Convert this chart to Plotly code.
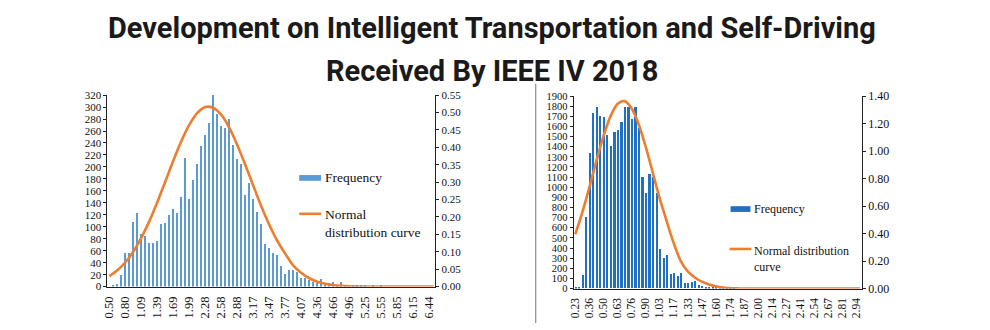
import plotly.graph_objects as go

# ---------------- data ----------------
# Left chart: 82 histogram bins, labelled every 4th bin
left_tick_labels = ["0.50", "0.80", "1.09", "1.39", "1.69", "1.99", "2.28", "2.58", "2.88", "3.17",
                    "3.47", "3.77", "4.07", "4.36", "4.66", "4.96", "5.25", "5.55", "5.85", "6.15", "6.44"]
left_freq = [0, 2, 5, 19, 56, 56, 107, 123, 88, 85,
             72, 72, 76, 104, 106, 119, 130, 123, 149, 215,
             146, 178, 204, 235, 254, 274, 320, 289, 268, 265,
             280, 237, 213, 204, 153, 173, 147, 124, 105, 71,
             64, 56, 52, 35, 21, 28, 28, 24, 15, 14,
             11, 8, 6, 12, 6, 6, 7, 3, 7, 3,
             2, 2, 1, 3, 1, 0, 1, 0, 2, 0,
             0, 0, 0, 0, 0, 0, 0, 0, 0, 0,
             0, 0]
# normal distribution curve read at every 2nd bin (plus last bin)
left_curve = [0.030, 0.047, 0.070, 0.101, 0.141, 0.188, 0.243, 0.302, 0.362, 0.418,
              0.465, 0.499, 0.516, 0.513, 0.493, 0.456, 0.406, 0.349, 0.289, 0.230,
              0.177, 0.131, 0.094, 0.060, 0.039, 0.024, 0.014, 0.008, 0.004, 0.002,
              0.001, 0.0005, 0.0, 0.0, 0.0, 0.0, 0.0, 0.0, 0.0, 0.0,
              0.0, 0.0]

# Right chart
right_tick_labels = ["0.23", "0.36", "0.50", "0.63", "0.76", "0.90", "1.03", "1.17", "1.33", "1.47",
                     "1.60", "1.74", "1.87", "2.00", "2.14", "2.27", "2.41", "2.54", "2.67", "2.81", "2.94"]
right_freq = [8, 8, 135, 703, 1333, 1733, 1796, 1705, 1689, 1516,
              1405, 1544, 1560, 1642, 1796, 1796, 1670, 1796, 1585, 1103,
              939, 1128, 1103, 939, 388, 298, 328, 145, 148, 122,
              153, 58, 58, 60, 75, 33, 25, 16, 12, 8,
              6, 4, 3, 2, 1, 1, 0, 0, 0, 0,
              0, 0, 0, 0, 0, 0, 0, 0, 0, 0,
              0, 0, 0, 0, 0, 0, 0, 0, 0, 0,
              0, 0, 0, 0, 0, 0, 0, 0, 0, 0,
              0, 0]
right_curve = [0.395, 0.554, 0.736, 0.928, 1.107, 1.252, 1.342, 1.363, 1.312, 1.197,
               1.034, 0.847, 0.657, 0.490, 0.330, 0.200, 0.125, 0.080, 0.050, 0.030,
               0.017, 0.008, 0.003, 0.001, 0.0, 0.0, 0.0, 0.0, 0.0, 0.0,
               0.0, 0.0, 0.0, 0.0, 0.0, 0.0, 0.0, 0.0, 0.0, 0.0,
               0.0, 0.0]

title_line1 = "Development on Intelligent Transportation and Self-Driving"
title_line2 = "Received By IEEE IV 2018"

# ---------------- figure ----------------
W, H = 990, 330
n_bins = len(left_freq)
bin_idx = list(range(n_bins))
curve_idx = list(range(0, n_bins - 1, 2)) + [n_bins - 1]
tick_idx = list(range(0, n_bins - 1, 4))

BLUE_L = "#5B9BD5"
BLUE_R = "#1F6FC2"
ORANGE = "#ED7D31"
SERIF = "Liberation Serif, Times New Roman, serif"

fig = go.Figure()
fig.add_trace(go.Bar(x=bin_idx, y=left_freq, width=0.55, marker_color=BLUE_L,
                     marker_line_width=0, xaxis="x", yaxis="y", name="Frequency"))
fig.add_trace(go.Scatter(x=curve_idx, y=left_curve, mode="lines",
                         line=dict(color=ORANGE, width=2.6, shape="spline", smoothing=0.8),
                         xaxis="x", yaxis="y2", name="Normal distribution curve"))
fig.add_trace(go.Bar(x=bin_idx, y=right_freq, width=0.62, marker_color=BLUE_R,
                     marker_line_width=0, xaxis="x2", yaxis="y3", name="Frequency"))
fig.add_trace(go.Scatter(x=curve_idx, y=right_curve, mode="lines",
                         line=dict(color=ORANGE, width=2.6, shape="spline", smoothing=0.8),
                         xaxis="x2", yaxis="y4", name="Normal distribution curve"))


def px(x):
    return x / W


def py(y):
    return 1 - y / H


xcommon = dict(range=[-0.5, n_bins - 0.5], tickvals=tick_idx, tickangle=-90, showline=True,
               linecolor="#222", linewidth=1, ticks="", showgrid=False, zeroline=False,
               ticklabelstandoff=4)
ycommon = dict(showline=True, linecolor="#222", linewidth=1, ticks="outside", ticklen=3,
               tickcolor="#222", showgrid=False, zeroline=False)

fig.update_layout(
    width=W, height=H, margin=dict(l=0, r=0, t=0, b=0),
    paper_bgcolor="white", plot_bgcolor="white", showlegend=False, bargap=0,
    xaxis=dict(domain=[px(103), px(433)], anchor="y", ticktext=left_tick_labels,
               tickfont=dict(family=SERIF, size=12.5, color="#111"), **xcommon),
    yaxis=dict(domain=[py(292), py(92)], anchor="x", range=[0, 320], dtick=20,
               tickfont=dict(family=SERIF, size=11, color="#111"), **ycommon),
    yaxis2=dict(overlaying="y", side="right", anchor="x", range=[0, 0.55], dtick=0.05, tickformat=".2f",
                tickfont=dict(family=SERIF, size=11, color="#111"), **ycommon),
    xaxis2=dict(domain=[px(572), px(862)], anchor="y3", ticktext=right_tick_labels,
                tickfont=dict(family=SERIF, size=11.5, color="#111"), **xcommon),
    yaxis3=dict(domain=[py(294), py(93)], anchor="x2", range=[0, 1900], dtick=100,
                tickfont=dict(family=SERIF, size=10.5, color="#111"), **ycommon),
    yaxis4=dict(overlaying="y3", side="right", anchor="x2", range=[0, 1.4], dtick=0.2, tickformat=".2f",
                tickfont=dict(family=SERIF, size=12, color="#111"), **ycommon),
)

TITLE_FONT = dict(family="Roboto, DejaVu Sans", size=29, color="#1a1a1a", weight="bold")
fig.add_annotation(x=0.495, y=py(22), xref="paper", yref="paper", text=title_line1, showarrow=False,
                   xanchor="center", yanchor="middle", font=TITLE_FONT)
fig.add_annotation(x=0.495, y=py(67), xref="paper", yref="paper", text=title_line2, showarrow=False,
                   xanchor="center", yanchor="middle", font=TITLE_FONT)

# separator line between the two charts
fig.add_shape(type="line", xref="paper", yref="paper", x0=px(534), x1=px(534), y0=0, y1=py(80),
              line=dict(color="#777", width=1))

# legends (drawn as swatches + text)
fig.add_shape(type="rect", xref="paper", yref="paper", x0=px(296), x1=px(318), y0=py(181.5), y1=py(175.5),
              fillcolor=BLUE_L, line_width=0)
fig.add_annotation(x=px(320), y=py(178.5), xref="paper", yref="paper", text="Frequency", showarrow=False,
                   xanchor="left", yanchor="middle", font=dict(family=SERIF, size=13.5, color="#111"))
fig.add_shape(type="line", xref="paper", yref="paper", x0=px(296), x1=px(318), y0=py(216), y1=py(216),
              line=dict(color=ORANGE, width=2.6))
fig.add_annotation(x=px(320), y=py(207), xref="paper", yref="paper", text="Normal<br>distribution curve",
                   showarrow=False, xanchor="left", yanchor="top", align="left",
                   font=dict(family=SERIF, size=13.5, color="#111"))

fig.add_shape(type="rect", xref="paper", yref="paper", x0=px(730), x1=px(750), y0=py(214), y1=py(208),
              fillcolor=BLUE_R, line_width=0)
fig.add_annotation(x=px(752), y=py(211), xref="paper", yref="paper", text="Frequency", showarrow=False,
                   xanchor="left", yanchor="middle", font=dict(family=SERIF, size=12, color="#111"))
fig.add_shape(type="line", xref="paper", yref="paper", x0=px(729), x1=px(751), y0=py(252.7), y1=py(252.7),
              line=dict(color=ORANGE, width=2.6))
fig.add_annotation(x=px(752), y=py(245), xref="paper", yref="paper", text="Normal distribution<br>curve",
                   showarrow=False, xanchor="left", yanchor="top", align="left",
                   font=dict(family=SERIF, size=12, color="#111"))

fig.write_html("out.html")
